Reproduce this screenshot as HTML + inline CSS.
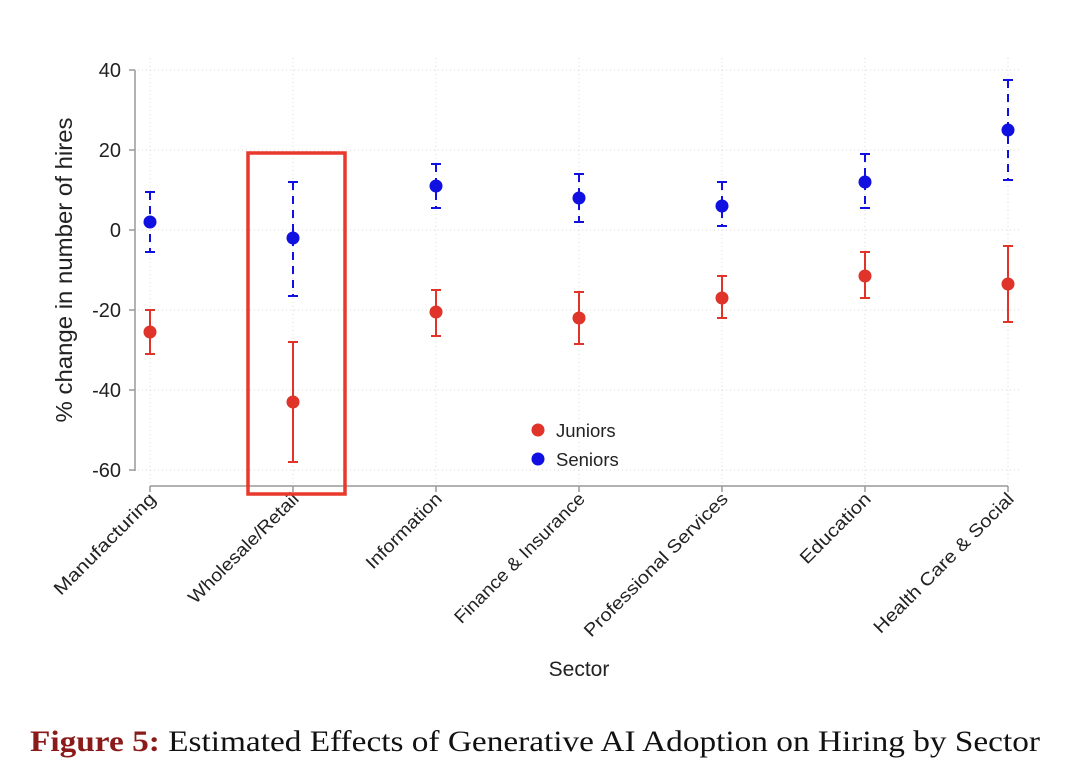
<!DOCTYPE html>
<html><head><meta charset="utf-8"><style>
html,body{margin:0;padding:0;background:#fff;}
svg{display:block;}
</style></head><body>
<svg width="1080" height="782" viewBox="0 0 1080 782" xmlns="http://www.w3.org/2000/svg" font-family="Liberation Sans, sans-serif">
<g stroke="#d8d8d8" stroke-width="1" stroke-dasharray="1,3">
<line x1="138" y1="70" x2="1020" y2="70"/>
<line x1="138" y1="150" x2="1020" y2="150"/>
<line x1="138" y1="230" x2="1020" y2="230"/>
<line x1="138" y1="310" x2="1020" y2="310"/>
<line x1="138" y1="390" x2="1020" y2="390"/>
<line x1="138" y1="470" x2="1020" y2="470"/>
<line x1="150" y1="58" x2="150" y2="486"/>
<line x1="293" y1="58" x2="293" y2="486"/>
<line x1="436" y1="58" x2="436" y2="486"/>
<line x1="579" y1="58" x2="579" y2="486"/>
<line x1="722" y1="58" x2="722" y2="486"/>
<line x1="865" y1="58" x2="865" y2="486"/>
<line x1="1008" y1="58" x2="1008" y2="486"/>
</g>
<g stroke="#999" stroke-width="1.5" fill="none">
<line x1="135" y1="70" x2="135" y2="471"/>
<line x1="129" y1="70" x2="135" y2="70"/><line x1="129" y1="150" x2="135" y2="150"/><line x1="129" y1="230" x2="135" y2="230"/><line x1="129" y1="310" x2="135" y2="310"/><line x1="129" y1="390" x2="135" y2="390"/><line x1="129" y1="470" x2="135" y2="470"/>
<line x1="150" y1="486" x2="1008" y2="486"/>
<line x1="150" y1="486" x2="150" y2="492"/><line x1="293" y1="486" x2="293" y2="492"/><line x1="436" y1="486" x2="436" y2="492"/><line x1="579" y1="486" x2="579" y2="492"/><line x1="722" y1="486" x2="722" y2="492"/><line x1="865" y1="486" x2="865" y2="492"/><line x1="1008" y1="486" x2="1008" y2="492"/>
</g>
<g font-size="20" fill="#222" text-anchor="end">
<text x="121" y="77">40</text><text x="121" y="157">20</text><text x="121" y="237">0</text>
<text x="121" y="317">-20</text><text x="121" y="397">-40</text><text x="121" y="477">-60</text>
</g>
<text transform="translate(72,270) rotate(-90)" font-size="23" fill="#222" text-anchor="middle" textLength="305" lengthAdjust="spacingAndGlyphs">% change in number of hires</text>
<g font-size="18" fill="#222" text-anchor="end">
<text transform="translate(157,500) rotate(-45)" textLength="136" lengthAdjust="spacingAndGlyphs">Manufacturing</text>
<text transform="translate(300,500) rotate(-45)" textLength="148" lengthAdjust="spacingAndGlyphs">Wholesale/Retail</text>
<text transform="translate(443,500) rotate(-45)" textLength="99" lengthAdjust="spacingAndGlyphs">Information</text>
<text transform="translate(586,500) rotate(-45)" textLength="176" lengthAdjust="spacingAndGlyphs">Finance &amp; Insurance</text>
<text transform="translate(729,500) rotate(-45)" textLength="195" lengthAdjust="spacingAndGlyphs">Professional Services</text>
<text transform="translate(872,500) rotate(-45)" textLength="92" lengthAdjust="spacingAndGlyphs">Education</text>
<text transform="translate(1015,500) rotate(-45)" textLength="190" lengthAdjust="spacingAndGlyphs">Health Care &amp; Social</text>
</g>
<text x="579" y="676" font-size="21" fill="#222" text-anchor="middle">Sector</text>
<!-- Seniors -->
<g stroke="#1010e0" stroke-width="2" fill="none">
<g stroke-dasharray="8,6">
<line x1="150" y1="192" x2="150" y2="252"/>
<line x1="293" y1="182" x2="293" y2="296"/>
<line x1="436" y1="164" x2="436" y2="208"/>
<line x1="579" y1="174" x2="579" y2="222"/>
<line x1="722" y1="182" x2="722" y2="226"/>
<line x1="865" y1="154" x2="865" y2="208"/>
<line x1="1008" y1="80" x2="1008" y2="180"/>
</g>
<path d="M145 192h10M145 252h10M288 182h10M288 296h10M431 164h10M431 208h10M574 174h10M574 222h10M717 182h10M717 226h10M860 154h10M860 208h10M1003 80h10M1003 180h10"/>
</g>
<g fill="#1010e0">
<circle cx="150" cy="222" r="6.5"/><circle cx="293" cy="238" r="6.5"/><circle cx="436" cy="186" r="6.5"/><circle cx="579" cy="198" r="6.5"/><circle cx="722" cy="206" r="6.5"/><circle cx="865" cy="182" r="6.5"/><circle cx="1008" cy="130" r="6.5"/>
</g>
<!-- Juniors -->
<g stroke="#e0332a" stroke-width="2" fill="none">
<path d="M150 310V354M145 310h10M145 354h10"/>
<path d="M293 342V462M288 342h10M288 462h10"/>
<path d="M436 290V336M431 290h10M431 336h10"/>
<path d="M579 292V344M574 292h10M574 344h10"/>
<path d="M722 276V318M717 276h10M717 318h10"/>
<path d="M865 252V298M860 252h10M860 298h10"/>
<path d="M1008 246V322M1003 246h10M1003 322h10"/>
</g>
<g fill="#e0332a">
<circle cx="150" cy="332" r="6.5"/><circle cx="293" cy="402" r="6.5"/><circle cx="436" cy="312" r="6.5"/><circle cx="579" cy="318" r="6.5"/><circle cx="722" cy="298" r="6.5"/><circle cx="865" cy="276" r="6.5"/><circle cx="1008" cy="284" r="6.5"/>
</g>
<!-- legend -->
<circle cx="538" cy="430" r="6.5" fill="#e0332a"/>
<text x="556" y="437" font-size="18.5" fill="#222">Juniors</text>
<circle cx="538" cy="459" r="6.5" fill="#1010e0"/>
<text x="556" y="466" font-size="18.5" fill="#222">Seniors</text>
<!-- highlight box -->
<rect x="248" y="153" width="97" height="341" fill="none" stroke="#e8392c" stroke-width="3.5"/>
<text x="30" y="751" font-family="Liberation Serif, serif" font-size="30" fill="#111" textLength="1010" lengthAdjust="spacingAndGlyphs"><tspan fill="#8b1a1a" font-weight="bold">Figure 5:</tspan> Estimated Effects of Generative AI Adoption on Hiring by Sector</text>
</svg>
</body></html>
